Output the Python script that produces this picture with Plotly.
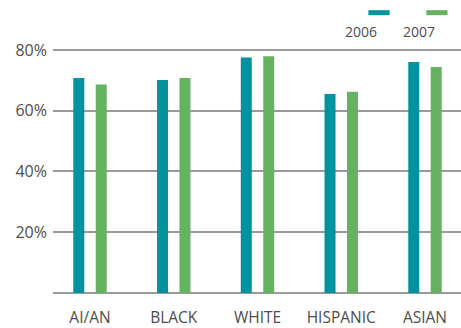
import plotly.graph_objects as go

groups = ["AI/AN", "BLACK", "WHITE", "HISPANIC", "ASIAN"]
years = ["2006", "2007"]
values_2006 = [70.8, 70.1, 77.5, 65.5, 76.0]
values_2007 = [68.6, 70.8, 77.9, 66.2, 74.4]
colors = ["#00939F", "#65B360"]
y_ticks = [20, 40, 60, 80]
y_tick_labels = ["20%", "40%", "60%", "80%"]

font_family = "Open Sans, Noto Sans, sans-serif"
text_color = "#4d4d4d"
grid_color = "#9a9a9a"

fig = go.Figure()
for name, vals, col in zip(years, [values_2006, values_2007], colors):
    fig.add_trace(go.Bar(
        x=groups, y=vals, name=name,
        marker=dict(color=col, line=dict(width=0)),
        showlegend=False, hoverinfo="x+y+name",
    ))

# legend drawn as swatch above each year label
legend_x = [0.799, 0.941]
for name, col, lx in zip(years, colors, legend_x):
    fig.add_shape(type="line", xref="paper", yref="paper",
                  x0=lx - 0.026, x1=lx + 0.026, y0=1.108, y1=1.108,
                  line=dict(color=col, width=5))
    fig.add_annotation(xref="paper", yref="paper", x=lx, y=1.034,
                       text=name, showarrow=False, yanchor="middle",
                       font=dict(family=font_family, size=14, color=text_color))

fig.update_layout(
    width=461, height=328,
    margin=dict(l=53, r=0, t=40, b=33),
    paper_bgcolor="white", plot_bgcolor="white",
    barmode="group", bargap=0.464, bargroupgap=0.51,
    font=dict(family=font_family, color=text_color),
    xaxis=dict(
        range=[-0.442, 4.43], showgrid=False, zeroline=False,
        showline=False, ticks="", ticklabelstandoff=13,
        tickfont=dict(size=15.5, color=text_color),
    ),
    yaxis=dict(
        range=[0, 83.27], tickvals=y_ticks, ticktext=y_tick_labels,
        showgrid=True, gridcolor=grid_color, gridwidth=1.6,
        zeroline=True, zerolinecolor=grid_color, zerolinewidth=1.6,
        showline=False, ticks="", ticklabelstandoff=5,
        tickfont=dict(size=16, color=text_color),
    ),
)

fig.write_html("out.html")
